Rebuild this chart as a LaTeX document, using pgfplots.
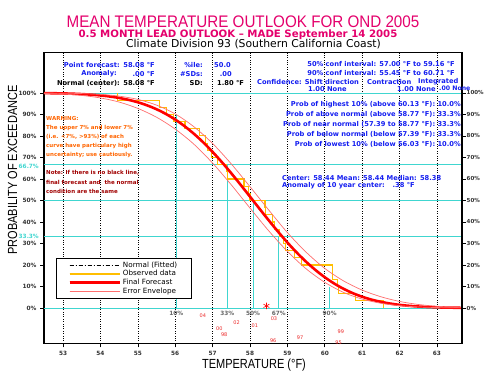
\documentclass[border=0pt]{standalone}
\usepackage{pgfplots}
\pgfplotsset{compat=1.18}
\usepackage{pgfplotstable}
\usepackage{fontspec}
\setmainfont{DejaVu Sans}
\newfontfamily\lib{Liberation Sans}
\definecolor{ttl}{RGB}{228,0,108}
\definecolor{infoblue}{RGB}{20,30,240}
\definecolor{warnor}{RGB}{255,100,0}
\definecolor{notered}{RGB}{160,0,0}
\definecolor{cyanl}{RGB}{64,214,208}
\definecolor{obsy}{RGB}{255,190,0}
\definecolor{envr}{RGB}{255,110,110}
\definecolor{yrred}{RGB}{235,40,40}

\pgfplotstableread{
t P
52.49 99.90
52.75 99.85
53.0 99.76
53.25 99.64
53.5 99.45
53.75 99.19
54.0 98.83
54.25 98.33
54.5 97.66
54.75 96.78
55.0 95.65
55.25 94.20
55.5 92.41
55.75 90.22
56.0 87.61
56.25 84.54
56.5 81.00
56.75 77.00
57.0 72.57
57.25 67.76
57.5 62.63
57.75 57.26
58.0 51.77
58.25 46.24
58.5 40.78
58.75 35.49
59.0 30.46
59.25 25.78
59.5 21.51
59.75 17.68
60.0 14.30
60.25 11.40
60.5 8.94
60.75 6.90
61.0 5.24
61.25 3.91
61.5 2.87
61.75 2.07
62.0 1.47
62.25 1.03
62.5 0.70
62.75 0.47
63.0 0.31
63.25 0.20
63.5 0.13
63.67 0.09
}\normtab

\pgfplotstableread{
t P
52.49 99.95
53.0 99.87
53.5 99.69
54.0 99.31
54.5 98.51
55.0 96.98
55.5 94.33
56.0 90.22
56.5 84.27
57.0 76.49
57.5 66.97
58.0 56.40
58.5 45.58
59.0 35.07
59.5 25.97
60.0 18.41
60.5 12.63
61.0 8.33
61.5 5.24
62.0 3.06
62.5 1.65
63.0 0.82
63.5 0.37
63.67 0.28
}\envA

\pgfplotstableread{
t P
52.49 99.76
53.0 99.45
53.5 98.83
54.0 97.66
54.5 95.75
55.0 92.80
55.5 88.70
56.0 83.17
56.5 76.15
57.0 67.36
57.5 57.26
58.0 46.46
58.5 35.90
59.0 26.33
59.5 18.25
60.0 11.94
60.5 7.27
61.0 4.15
61.5 2.22
62.0 1.10
62.5 0.50
63.0 0.22
63.5 0.09
63.67 0.07
}\envB

\tikzset{
 blu/.style={text=infoblue, font=\fontsize{6.7}{7}\selectfont\bfseries, inner sep=0pt},
 blk/.style={text=black, font=\fontsize{6.7}{7}\selectfont\bfseries, inner sep=0pt},
 wrn/.style={text=warnor, font=\fontsize{5.5}{6}\selectfont\bfseries, inner sep=0pt, anchor=west},
 nte/.style={text=notered, font=\fontsize{5.5}{6}\selectfont\bfseries, inner sep=0pt, anchor=west},
 yr/.style={text=yrred, font=\fontsize{5}{5}\selectfont, inner sep=0pt},
 pc/.style={text=black!60, font=\fontsize{5.8}{6}\selectfont\bfseries, inner sep=0pt},
}

\begin{document}
\begin{tikzpicture}[x=1pt,y=1pt]
\path[use as bounding box] (0,0) rectangle (485,375);
\begin{axis}[
  at={(44pt,31.7pt)}, anchor=south west,
  scale only axis, width=418pt, height=290.6pt,
  xmin=52.49, xmax=63.67, ymin=-16.4, ymax=118.7,
  axis line style={line width=1.1pt},
  xtick={53,54,...,63}, ytick={0,10,...,100},
  xtick pos=left, ytick pos=left,
  tick align=outside, major tick length=4pt,
  tick style={line width=0.6pt, black},
  xmajorgrids, major x grid style={black, dotted, line width=0.6pt},
  yticklabel={\pgfmathprintnumber{\tick}\%},
  ticklabel style={font=\fontsize{5.8}{6}\selectfont\bfseries, text=black!80},
  /pgf/number format/assume math mode=true,
  clip=false,
  legend style={at={(0.0287,0.2935)}, anchor=north west, draw=black, line width=0.8pt,
     fill=white, font=\fontsize{7.2}{8}\selectfont, inner xsep=12pt, inner ysep=1.5pt,
     row sep=-2.4pt, legend cell align=left},
  legend image code/.code={\draw[#1] (0pt,0pt) -- (38pt,0pt); \path (0pt,0pt) -- (50pt,0pt);},
]
% cyan reference lines
\addplot[cyanl, line width=0.8pt, forget plot] coordinates {(52.49,100) (63.67,100)};
\addplot[cyanl, line width=0.8pt, forget plot] coordinates {(52.49,66.7) (63.67,66.7)};
\addplot[cyanl, line width=0.8pt, forget plot] coordinates {(52.49,50) (63.67,50)};
\addplot[cyanl, line width=0.8pt, forget plot] coordinates {(52.49,33.3) (63.67,33.3)};
\addplot[cyanl, line width=0.8pt, forget plot] coordinates {(52.49,0) (63.67,0)};
\addplot[cyanl, line width=0.8pt, forget plot] coordinates {(56.03,0) (56.03,90)};
\addplot[cyanl, line width=0.8pt, forget plot] coordinates {(57.39,0) (57.39,66.7)};
\addplot[cyanl, line width=0.8pt, forget plot] coordinates {(58.08,0) (58.08,50)};
\addplot[cyanl, line width=0.8pt, forget plot] coordinates {(58.77,0) (58.77,33.3)};
\addplot[cyanl, line width=0.8pt, forget plot] coordinates {(60.13,0) (60.13,10)};

\addplot[black, line width=0.8pt, dash pattern=on 4pt off 2pt on 1pt off 2pt] table[x=t,y=P] {\normtab};
\addlegendentry{Normal (Fitted)}
\addplot[obsy, line width=1.1pt, const plot] coordinates {
(54.45,100) (54.45,96.67) (55.57,93.33) (55.77,90.00) (55.95,86.67) (56.26,83.33)
(56.66,80.00) (56.82,76.67) (56.86,73.33) (56.98,70.00) (57.13,66.67) (57.38,63.33)
(57.39,60.00) (57.84,56.67) (57.95,53.33) (58.00,50.00) (58.40,46.67) (58.42,43.33)
(58.60,40.00) (58.66,36.67) (58.80,33.33) (58.90,30.00) (58.95,26.67) (59.20,23.33)
(59.37,20.00) (60.20,16.67) (60.21,13.33) (60.34,10.00) (60.36,6.67) (60.81,3.33) (61.56,0)};
\addlegendentry{Observed data}
\addplot[red, line width=2.6pt, smooth] table[x=t,y=P] {\normtab};
\addlegendentry{Final Forecast}
\addplot[envr, line width=0.7pt, smooth] table[x=t,y=P] {\envA};
\addlegendentry{Error Envelope}
\addplot[envr, line width=0.7pt, smooth, forget plot] table[x=t,y=P] {\envB};

\addplot[only marks, mark=asterisk, red, mark size=3.3pt, line width=0.6pt, forget plot] coordinates {(58.44,1)};

\node[pc] at (axis cs:56.03,-2.4) {10\%};
\node[pc] at (axis cs:57.39,-2.4) {33\%};
\node[pc] at (axis cs:58.08,-2.4) {50\%};
\node[pc] at (axis cs:58.77,-2.4) {67\%};
\node[pc] at (axis cs:60.13,-2.4) {90\%};

\node[yr] at (axis cs:56.74,-3.7) {04};
\node[yr] at (axis cs:57.64,-6.7) {02};
\node[yr] at (axis cs:58.13,-8.2) {01};
\node[yr] at (axis cs:57.18,-9.6) {00};
\node[yr] at (axis cs:58.64,-5.1) {03};
\node[yr] at (axis cs:57.31,-12.6) {98};
\node[yr] at (axis cs:58.62,-15.0) {96};
\node[yr] at (axis cs:59.34,-13.6) {97};
\node[yr] at (axis cs:60.43,-11.2) {99};
\node[yr] at (axis cs:60.37,-16.0) {95};
\end{axis}
\begin{axis}[
  at={(44pt,31.7pt)}, anchor=south west,
  scale only axis, width=418pt, height=290.6pt,
  xmin=52.49, xmax=63.67, ymin=-16.4, ymax=118.7,
  axis x line=none, axis y line*=right,
  axis line style={line width=1.1pt},
  ytick={0,10,...,100},
  tick align=outside, major tick length=3.5pt,
  tick style={line width=0.6pt, black},
  yticklabel={\pgfmathprintnumber{\tick}\%},
  ticklabel style={font=\fontsize{5.5}{6}\selectfont\bfseries, text=black!80, inner sep=1pt},
  /pgf/number format/assume math mode=true,
]
\addplot[draw=none] coordinates {(53,0)};
\end{axis}

% titles
\node[text=ttl, font=\lib\fontsize{15.2}{16}\selectfont, anchor=base, inner sep=0pt] at (243,347) {\scalebox{1}[1.1]{MEAN TEMPERATURE OUTLOOK FOR OND 2005}};
\node[text=ttl, font=\fontsize{10.2}{11}\selectfont\bfseries, anchor=base, inner sep=0pt] at (238,337) {0.5 MONTH LEAD OUTLOOK -- MADE September 14 2005};
\node[font=\fontsize{10.8}{11}\selectfont, anchor=base, inner sep=0pt] at (253.5,327) {Climate Division 93 (Southern California Coast)};

% axis labels
\node[font=\lib\fontsize{11}{11}\selectfont] at (254,10) {\scalebox{1}[1.2]{TEMPERATURE (°F)}};
\node[font=\lib\fontsize{11}{11}\selectfont, rotate=90] at (12.5,205) {\scalebox{1}[1.2]{PROBABILITY OF EXCEEDANCE}};
\node[text=cyanl, font=\fontsize{5.8}{6}\selectfont\bfseries, anchor=east, inner sep=0pt] at (39,209) {66.7\%};
\node[text=cyanl, font=\fontsize{5.8}{6}\selectfont\bfseries, anchor=east, inner sep=0pt] at (39,139) {33.3\%};

% info top-left
\node[blu, anchor=east] at (120,310) {Point forecast:};
\node[blu, anchor=east] at (155,310) {58.08 °F};
\node[blu, anchor=east] at (117,301) {Anomaly:};
\node[blu, anchor=east] at (155,301) {.00 °F};
\node[blk, anchor=east] at (120,292) {Normal (center):};
\node[blk, anchor=east] at (155,292) {58.08 °F};
\node[blu, anchor=east] at (203,310) {\%ile:};
\node[blu, anchor=west] at (214,310) {50.0};
\node[blu, anchor=east] at (203,301) {\#SDs:};
\node[blu, anchor=east] at (232,301) {.00};
\node[blk, anchor=east] at (203,292) {SD:};
\node[blk, anchor=west] at (217,292) {1.80 °F};

% info top-right
\node[blu, anchor=east] at (455,310.7) {50\% conf interval: 57.00 °F to 59.16 °F};
\node[blu, anchor=east] at (455,302.3) {90\% conf interval: 55.45 °F to 60.71 °F};
\node[blu, anchor=west] at (257,293.2) {Confidence: Shift direction};
\node[blu, anchor=west] at (367,293.2) {Contraction};
\node[blu, anchor=west] at (418,293.2) {Integrated};
\node[blu, anchor=west] at (308,286) {1.00 None};
\node[blu, anchor=west] at (397,286) {1.00 None};
\node[blu, anchor=west, font=\fontsize{6.2}{7}\selectfont\bfseries] at (439,286.3) {.00 None};

% warning
\node[wrn] at (46,256) {WARNING:};
\node[wrn] at (46,247) {The upper 7\% and lower 7\%};
\node[wrn] at (46,238) {(i.e. <7\%, >93\%) of each};
\node[wrn] at (46,229) {curve have particulary high};
\node[wrn] at (46,220) {uncertainty; use cautiously.};
\node[nte] at (46,202) {Note: If there is no black line,};
\node[nte] at (46,193) {final forecast and \ the normal};
\node[nte] at (46,184) {condition are the same};

% probabilities
\node[blu, anchor=east] at (461,270) {Prob of highest 10\% (above 60.13 °F): 10.0\%};
\node[blu, anchor=east] at (461,260.5) {Prob of above normal (above 58.77 °F): 33.3\%};
\node[blu, anchor=east] at (461,250.5) {Prob of near normal (57.39 to 58.77 °F): 33.3\%};
\node[blu, anchor=east] at (461,240.5) {Prob of below normal (below 57.39 °F): 33.3\%};
\node[blu, anchor=east] at (461,230.5) {Prob of lowest 10\% (below 56.03 °F): 10.0\%};
\node[blu, anchor=west] at (282,196.5) {Center: 58.44 Mean: 58.44 Median: 58.38};
\node[blu, anchor=west] at (282,189) {Anomaly of 10 year center: \ \ .38 °F};
\end{tikzpicture}
\end{document}
